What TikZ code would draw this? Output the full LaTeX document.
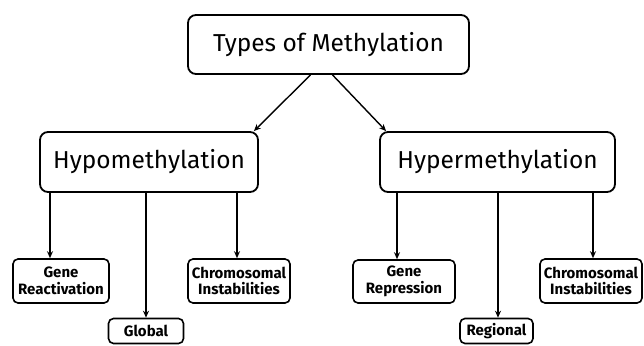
\documentclass[tikz,border=0pt]{standalone}
\usepackage{fontspec}
\setmainfont{Fira Sans}
\usetikzlibrary{arrows.meta}
\begin{document}
\begin{tikzpicture}[x=1pt,y=-1pt,
  box/.style={draw,line width=1.8pt,rounded corners=8pt,inner sep=0pt,align=center,fill=white},
  bigbox/.style={box,font=\fontsize{24.5}{28}\selectfont},
  smallbox/.style={box,line width=1.6pt,rounded corners=5pt,font=\bfseries\fontsize{15}{16.5}\selectfont},
  arr/.style={line width=1.4pt,-{Stealth[length=7pt,width=6pt]}}]
\useasboundingbox (0,0) rectangle (644,345);
\node[bigbox,minimum width=281pt,minimum height=59pt] (top) at (328.5,44.5) {Types of Methylation};
\node[bigbox,minimum width=218pt,minimum height=60pt] (hypo) at (149,162) {Hypomethylation};
\node[bigbox,minimum width=235pt,minimum height=60pt] (hyper) at (497.5,162) {Hypermethylation};
\node[smallbox,minimum width=96pt,minimum height=44pt] (gr) at (61,281) {Gene\\Reactivation};
\node[smallbox,minimum width=102pt,minimum height=44pt] (cl) at (239,281) {Chromosomal\\Instabilities};
\node[smallbox,minimum width=75pt,minimum height=25pt] (gl) at (146,331) {Global};
\node[smallbox,minimum width=102pt,minimum height=43pt] (rp) at (404,281.5) {Gene\\Repression};
\node[smallbox,minimum width=102pt,minimum height=44pt] (cr) at (591,281) {Chromosomal\\Instabilities};
\node[smallbox,minimum width=73pt,minimum height=25pt] (rg) at (496.5,331) {Regional};
\draw[arr] ([xshift=-18pt]top.south) -- ([xshift=-5pt]hypo.north east);
\draw[arr] ([xshift=4pt]top.south) -- ([xshift=7pt]hyper.north west);
\draw[arr] ([xshift=-11pt]gr.north |- hypo.south) -- ([xshift=-11pt]gr.north);
\draw[arr] (gl.north |- hypo.south) -- (gl.north);
\draw[arr] ([xshift=-2pt]cl.north |- hypo.south) -- ([xshift=-2pt]cl.north);
\draw[arr] ([xshift=-7pt]rp.north |- hyper.south) -- ([xshift=-7pt]rp.north);
\draw[arr] ([xshift=1.5pt]rg.north |- hyper.south) -- ([xshift=1.5pt]rg.north);
\draw[arr] ([xshift=2pt]cr.north |- hyper.south) -- ([xshift=2pt]cr.north);
\end{tikzpicture}
\end{document}
